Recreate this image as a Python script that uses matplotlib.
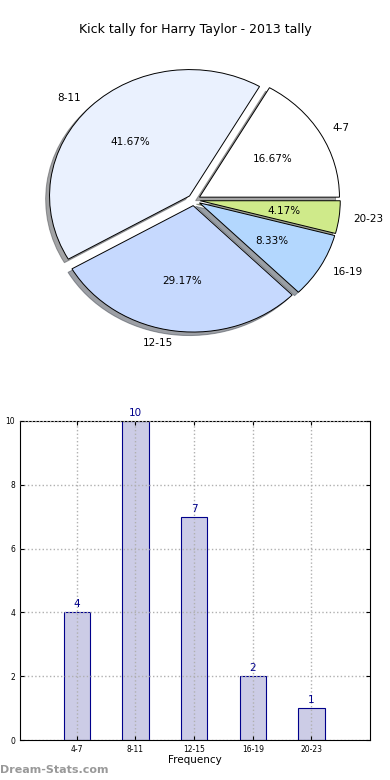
import matplotlib
matplotlib.use('Agg')
import matplotlib.pyplot as plt
import numpy as np

# kick counts per time band
bands = ['4-7', '8-11', '12-15', '16-19', '20-23']
counts = [4, 10, 7, 2, 1]
pie_colors = ['#ffffff', '#eaf1fe', '#c6d9fe', '#b3d7fe', '#cfea8a']
explode = [0.045, 0.045, 0.045, 0.045, 0.045]

fig = plt.figure(figsize=(3.9, 7.8), dpi=100)
fig.text(0.5, 1 - 30 / 780, 'Kick tally for Harry Taylor - 2013 tally',
         ha='center', va='center', fontsize=9)

# Pie (old style, not equal aspect -> slightly squashed)
ax0 = fig.add_axes([19 / 390, 422 / 780, 350 / 390, 316 / 780])
wedges, texts, autotexts = ax0.pie(counts, labels=bands, colors=pie_colors,
                                   explode=explode, autopct='%1.2f%%', shadow=True,
                                   startangle=0, textprops={'fontsize': 7.5},
                                   wedgeprops={'linewidth': 0.7, 'edgecolor': 'black'})
ax0.set_xlim(-1.25, 1.25)
ax0.set_ylim(-1.25, 1.25)
ax0.set_aspect('auto')
ax0.axis('off')

# Bar chart
ax1 = fig.add_axes([20 / 390, 40 / 780, 350 / 390, 319 / 780])
x = np.arange(len(bands))
bars = ax1.bar(x, counts, width=0.45, color='#ccccE6', edgecolor='darkblue', linewidth=0.8)
for xi, c in zip(x, counts):
    ax1.text(xi, c + 0.1, str(c), ha='center', va='bottom', color='darkblue', fontsize=7.5)
ax1.set_xlim(-0.97, 5.0)
ax1.set_ylim(0, 10)
ax1.set_xticks(x)
ax1.set_xticklabels(bands)
ax1.set_yticks(range(0, 11, 2))
ax1.tick_params(labelsize=5.5, direction='in', top=True, right=True, length=3)
ax1.grid(True, linestyle=':', color='#b0b0b0', linewidth=1)
ax1.set_axisbelow(False)
ax1.set_xlabel('Frequency', fontsize=7.5, labelpad=1)
ax1.set_ylabel('Total Kick Tally', fontsize=7, labelpad=4)
for s in ax1.spines.values():
    s.set_linewidth(0.8)

fig.text(0.0, 10 / 780, 'Dream-Stats.com', color='#999999', fontsize=8,
         fontweight='bold', ha='left', va='center')

fig.savefig('out.png', dpi=100)
